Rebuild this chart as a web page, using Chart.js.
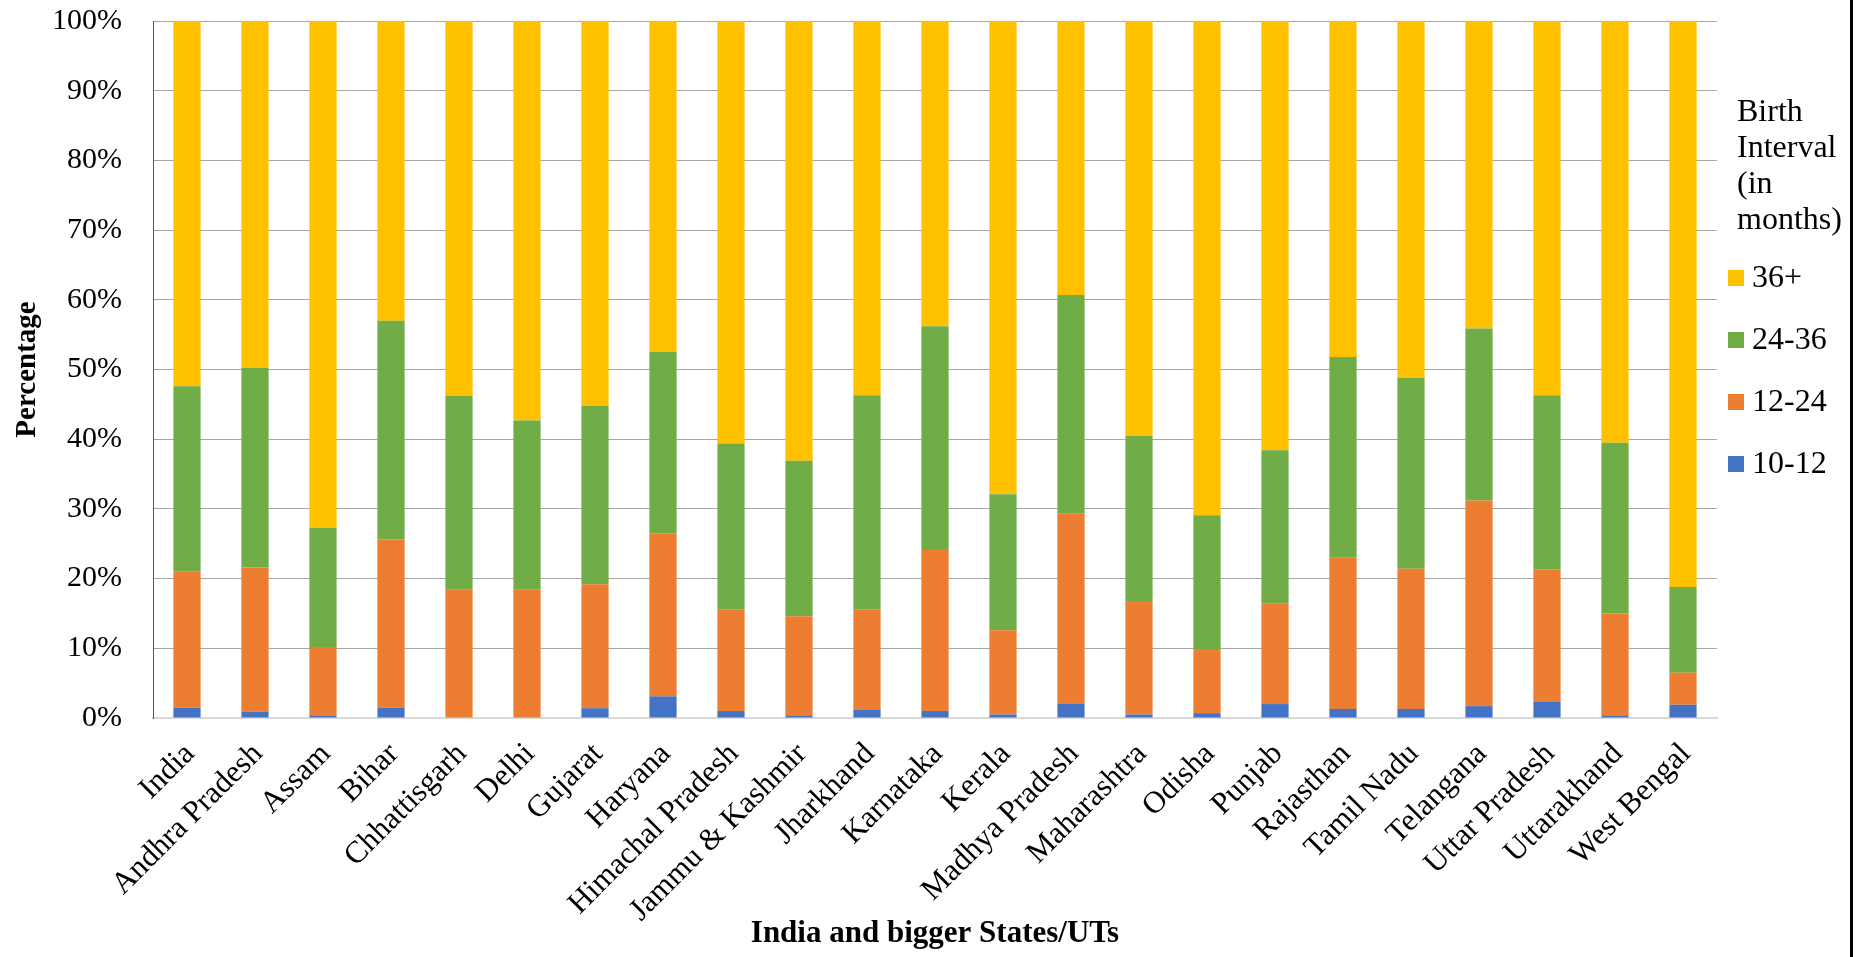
<!DOCTYPE html>
<html>
<head>
<meta charset="utf-8">
<title>Birth interval by state</title>
<script src="https://cdn.jsdelivr.net/npm/chart.js@4"></script>
<style>
  html, body { margin: 0; padding: 0; background: #fff; }
  #wrap { position: relative; width: 1864px; height: 957px; }
  #edge { position: absolute; left: 1850px; top: 0; width: 3px; height: 957px; background: #000; }
</style>
</head>
<body>
<div id="wrap">
  <canvas id="chart"></canvas>
  <div id="edge"></div>
</div>
<script>
const states = [
  "India", "Andhra Pradesh", "Assam", "Bihar", "Chhattisgarh", "Delhi", "Gujarat",
  "Haryana", "Himachal Pradesh", "Jammu & Kashmir", "Jharkhand", "Karnataka", "Kerala",
  "Madhya Pradesh", "Maharashtra", "Odisha", "Punjab", "Rajasthan", "Tamil Nadu",
  "Telangana", "Uttar Pradesh", "Uttarakhand", "West Bengal",
];

// share of births (%) per interval, bottom segment first
const m10to12 = [1.5, 0.9, 0.3, 1.5, 0.0, 0.0, 1.4, 3.1, 1.0, 0.3, 1.2, 1.0, 0.5, 2.1, 0.5, 0.7, 2.0, 1.3, 1.3, 1.7, 2.3, 0.3, 1.9];
const m12to24 = [19.5, 20.7, 9.9, 24.1, 18.4, 18.4, 17.8, 23.4, 14.6, 14.3, 14.4, 23.1, 12.1, 27.2, 16.3, 9.2, 14.4, 21.7, 20.1, 29.5, 19.0, 14.7, 4.6];
const m24to36 = [26.6, 28.6, 17.1, 31.4, 27.8, 24.3, 25.6, 26.0, 23.8, 22.3, 30.7, 32.1, 19.5, 31.4, 23.7, 19.2, 22.0, 28.8, 27.4, 24.7, 25.0, 24.5, 12.3];
const m36plus = [52.4, 49.8, 72.7, 43.0, 53.8, 57.3, 55.2, 47.5, 60.6, 63.1, 53.7, 43.8, 67.9, 39.3, 59.5, 70.9, 61.6, 48.2, 51.2, 44.1, 53.7, 60.5, 81.2];

const yTicks = [0, 10, 20, 30, 40, 50, 60, 70, 80, 90, 100];
const legendTitle = ["Birth", "Interval", "(in", "months)"];

const FONT = "'Liberation Serif', 'Times New Roman', serif";

// legend drawn by hand: multi-line title on the right, items top-down (36+ first)
const sideLegend = {
  id: "sideLegend",
  afterDraw(chart) {
    const { ctx, chartArea } = chart;
    const x = chartArea.right + 11;
    ctx.save();
    ctx.font = `32px ${FONT}`;
    ctx.fillStyle = "#000";
    ctx.textBaseline = "middle";
    ctx.textAlign = "left";
    legendTitle.forEach((line, i) => {
      ctx.fillText(line, x + 9, chartArea.top + 92 + i * 36);
    });
    const items = chart.data.datasets.slice().reverse();
    items.forEach((ds, i) => {
      const y = chartArea.top + 257 + i * 62;
      ctx.fillStyle = ds.backgroundColor;
      ctx.fillRect(x, y - 8, 16, 16);
      ctx.fillStyle = "#000";
      ctx.fillText(ds.label, x + 24, y + 1);
    });
    ctx.restore();
  },
};

new Chart(document.getElementById("chart"), {
  type: "bar",
  data: {
    labels: states,
    datasets: [
      { label: "10-12", data: m10to12, backgroundColor: "#4472C4" },
      { label: "12-24", data: m12to24, backgroundColor: "#ED7D31" },
      { label: "24-36", data: m24to36, backgroundColor: "#70AD47" },
      { label: "36+", data: m36plus, backgroundColor: "#FFC000" },
    ],
  },
  options: {
    responsive: true,
    maintainAspectRatio: false,
    animation: false,
    datasets: { bar: { categoryPercentage: 1, barPercentage: 0.4 } },
    layout: { padding: { top: 21, right: 147, bottom: 0, left: 0 } },
    plugins: {
      legend: { display: false },
      tooltip: { enabled: false },
    },
    scales: {
      x: {
        stacked: true,
        grid: { display: false, drawTicks: false },
        border: { display: true, color: "#d9d9d9", width: 2 },
        ticks: {
          color: "#000",
          font: { family: FONT, size: 31 },
          maxRotation: 45,
          minRotation: 45,
          autoSkip: false,
          padding: 18,
          labelOffset: 3,
        },
        title: {
          display: true,
          text: "India and bigger States/UTs",
          color: "#000",
          font: { family: FONT, size: 31, weight: "bold" },
          padding: { top: 0, bottom: 4 },
        },
        afterFit(scale) { scale.height = 239; },
      },
      y: {
        stacked: true,
        min: 0,
        max: 100,
        afterBuildTicks(scale) { scale.ticks = yTicks.map((v) => ({ value: v })); },
        grid: {
          drawTicks: true,
          tickLength: 31,
          tickColor: "rgba(0,0,0,0)",
          color: (c) => (c.tick && c.tick.value === 0 ? "#d9d9d9" : "#a6a6a6"),
          lineWidth: 1,
        },
        border: { display: true, color: "#595959", width: 1 },
        ticks: {
          color: "#000",
          font: { family: FONT, size: 30 },
          padding: 0,
          callback: (v) => `${v}%`,
        },
        title: {
          display: true,
          text: "Percentage",
          color: "#000",
          font: { family: FONT, size: 29, weight: "bold" },
          padding: { top: 10, bottom: 0 },
        },
        afterFit(scale) { scale.width = 153; },
      },
    },
  },
  plugins: [sideLegend],
});
</script>
</body>
</html>
